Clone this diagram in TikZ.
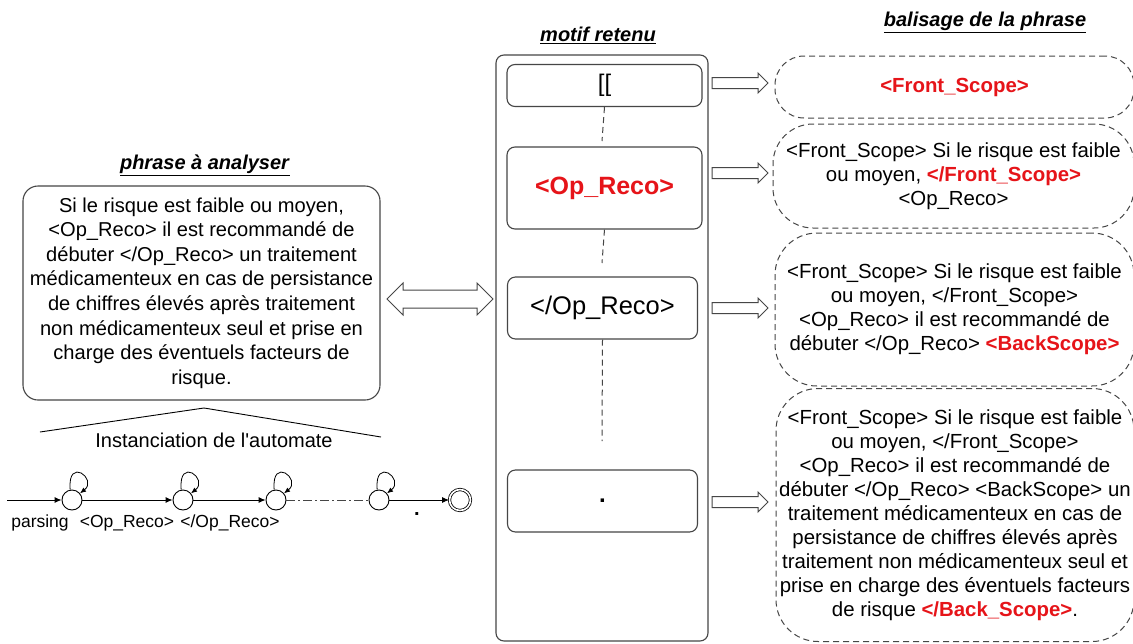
\documentclass[tikz,border=0pt]{standalone}
\usepackage{fontspec}
\setmainfont{Liberation Sans}
\usetikzlibrary{calc,arrows.meta}
\definecolor{lc}{RGB}{70,70,70}
\definecolor{rd}{RGB}{230,20,25}
\newcommand\rt[1]{\textcolor{rd}{\textbf{#1}}}
\newcommand\ttl[1]{\underline{\textbf{\textit{#1}}}}
\newcommand\harrow[2]{\draw[hollow] let \p1=(#1), \p2=(#2) in (\x1,\y1+5.5pt) -- (\x2-10pt,\y1+5.5pt) -- (\x2-10pt,\y1+10pt) -- (\x2,\y1) -- (\x2-10pt,\y1-10pt) -- (\x2-10pt,\y1-5.5pt) -- (\x1,\y1-5.5pt) -- cycle;}
\newcommand\hdarrow[2]{\draw[hollow] let \p1=(#1), \p2=(#2) in (\x1,\y1) -- (\x1+16pt,\y1+16pt) -- (\x1+16pt,\y1+9pt) -- (\x2-16pt,\y1+9pt) -- (\x2-16pt,\y1+16pt) -- (\x2,\y1) -- (\x2-16pt,\y1-16pt) -- (\x2-16pt,\y1-9pt) -- (\x1+16pt,\y1-9pt) -- (\x1+16pt,\y1-16pt) -- cycle;}
\begin{document}
\begin{tikzpicture}[x=1pt,y=-1pt,
  ttlnode/.style={inner sep=0pt, font=\fontsize{20}{24}\selectfont},
  solidbox/.style={draw=lc, line width=1.1pt, rounded corners=8pt, inner sep=0pt, align=center},
  dbox/.style={draw=lc, line width=1pt, dash pattern=on 6pt off 4pt, rounded corners=32pt, align=center, inner sep=0pt, font=\fontsize{20.4}{24}\selectfont},
  hollow/.style={draw=lc, line width=1pt, fill=white},
  vdash/.style={draw=lc, line width=1pt, dash pattern=on 6pt off 4pt},
  stnode/.style={circle, draw=black, line width=0.9pt, minimum size=20pt, inner sep=0pt},
  trans/.style={draw=black, line width=0.9pt, -{Latex[length=7pt,width=6pt]}},
  lbl/.style={inner sep=0pt, font=\fontsize{17.5}{20}\selectfont}]
\useasboundingbox (0,0) rectangle (1133,643);
\fill[white] (0,0) rectangle (1133,643);

% titles
\node[ttlnode] (t1) at (205,165) {\ttl{phrase à analyser}};
\node[ttlnode] (t2) at (598,35) {\ttl{motif retenu}};
\node[ttlnode] (t3) at (985,22) {\ttl{balisage de la phrase}};

% left box
\node[solidbox, rounded corners=15pt, minimum width=357pt, minimum height=214pt, font=\fontsize{20.1}{24.6}\selectfont] (lbox) at (201.5,293)
 {Si le risque est faible ou moyen,\\ <Op\_Reco> il est recommandé de\\ débuter </Op\_Reco> un traitement\\ médicamenteux en cas de persistance\\ de chiffres élevés après traitement\\ non médicamenteux seul et prise en\\ charge des éventuels facteurs de\\ risque.};

% middle
\node[draw=lc, line width=1.1pt, rounded corners=8pt, minimum width=212pt, minimum height=586pt, inner sep=0pt] (mout) at (602,348) {};
\node[solidbox, minimum width=195pt, minimum height=42pt, font=\fontsize{24}{28}\selectfont] (m1) at (604.5,85.5) {[[};
\node[solidbox, minimum width=195pt, minimum height=82pt, font=\fontsize{25}{28}\selectfont] (m2) at (604.5,188) {\rt{<Op\_Reco>}};
\node[solidbox, minimum width=190pt, minimum height=62pt, font=\fontsize{25.5}{28}\selectfont] (m3) at (602.5,308) {</Op\_Reco>};
\node[solidbox, minimum width=190pt, minimum height=62pt, font=\fontsize{24}{28}\selectfont] (m4) at (602.5,501) {\textbf{.}};
\coordinate (d1e) at (602,141);
\coordinate (d2e) at (602,263);
\coordinate (d3e) at (602,441);
\draw[vdash] (m1.south) -- (d1e);
\draw[vdash] (m2.south) -- (d2e);
\draw[vdash] (m3.south) -- (d3e);

% right dashed boxes
\node[dbox, rounded corners=29pt, minimum width=359pt, minimum height=62pt] (rA) at (954.5,87) {\rt{<Front\_Scope>}};
\node[dbox, rounded corners=40pt, minimum width=361pt, minimum height=104pt] (rB) at (953.5,176)
 {<Front\_Scope> Si le risque est faible\\ ou moyen, \rt{</Front\_Scope>}\\ <Op\_Reco>};
\node[dbox, rounded corners=42pt, minimum width=359pt, minimum height=153pt] (rC) at (954.5,309.5)
 {<Front\_Scope> Si le risque est faible\\ ou moyen, </Front\_Scope>\\ <Op\_Reco> il est recommandé de\\ débuter </Op\_Reco> \rt{<BackScope>}};
\node[dbox, rounded corners=42pt, minimum width=358pt, minimum height=253pt] (rD) at (955,515)
 {<Front\_Scope> Si le risque est faible\\ ou moyen, </Front\_Scope>\\ <Op\_Reco> il est recommandé de\\ débuter </Op\_Reco> <BackScope> un\\ traitement médicamenteux en cas de\\ persistance de chiffres élevés après\\ traitement non médicamenteux seul et\\ prise en charge des éventuels facteurs\\ de risque \rt{</Back\_Scope>}.};

% hollow arrows
\coordinate (a1s) at (712,83);  \coordinate (a1e) at (768,83);
\coordinate (a2s) at (712,173); \coordinate (a2e) at (768,173);
\coordinate (a3s) at (712,308); \coordinate (a3e) at (768,308);
\coordinate (a4s) at (712,502); \coordinate (a4e) at (768,502);
\harrow{a1s}{a1e}
\harrow{a2s}{a2e}
\harrow{a3s}{a3e}
\harrow{a4s}{a4e}
\coordinate (las) at (387,299); \coordinate (lae) at (493,299);
\hdarrow{las}{lae}

% instanciation
\coordinate (tl) at (40,432);
\coordinate (tap) at (204,408);
\coordinate (tr) at (381,437);
\draw[black, line width=0.9pt] (tl) -- (tap) -- (tr);
\node[inner sep=0pt, font=\fontsize{20}{24}\selectfont] (inst) at (214,440) {Instanciation de l\textquotesingle automate};

% automaton
\coordinate (init) at (7,500);
\node[stnode] (s1) at (72,500) {};
\node[stnode] (s2) at (183,500) {};
\node[stnode] (s3) at (276,500) {};
\node[stnode] (s4) at (379,500) {};
\node[circle, draw=black, line width=0.8pt, double, double distance=1.6pt, minimum size=21pt, inner sep=0pt] (f) at (460,500) {};
\draw[trans] (init) -- (s1);
\draw[trans] (s1) -- (s2);
\draw[trans] (s2) -- (s3);
\draw[draw=lc, line width=0.9pt, dash pattern=on 9pt off 3pt on 2pt off 3pt] (s3) -- (s4);
\draw[trans] (s4) -- (f);
\foreach \s in {s1,s2,s3,s4}{
  \draw[draw=black, line width=0.8pt, -{Latex[length=6pt,width=5pt]}] (\s.100) .. controls +(-3,-34) and +(18,-14) .. (\s.40);
}
\node[lbl] (l1) at (40,523) {parsing};
\node[lbl] (l2) at (127,523) {<Op\_Reco>};
\node[lbl] (l3) at (230,523) {</Op\_Reco>};
\node[lbl, font=\fontsize{20}{24}\selectfont] (l4) at (417,514) {\textbf{.}};
\end{tikzpicture}
\end{document}
